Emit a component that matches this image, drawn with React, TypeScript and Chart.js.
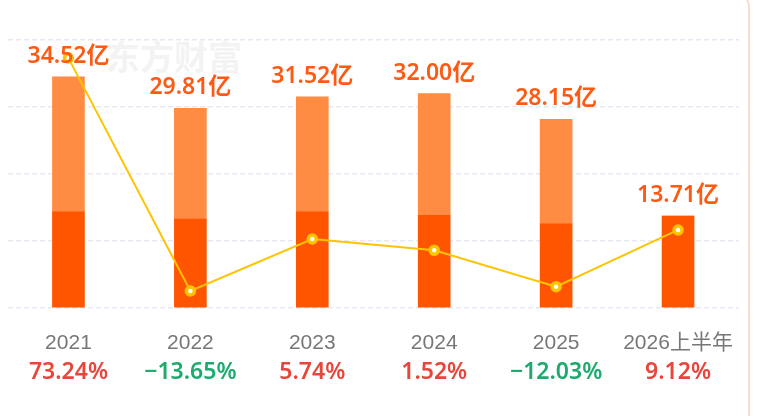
import React, { useEffect, useRef } from "react";
import { Chart, registerables } from "chart.js";

Chart.register(...registerables);

const years = ["2021", "2022", "2023", "2024", "2025", "2026上半年"];
const totals = [34.52, 29.81, 31.52, 32.0, 28.15, 13.71];
const firstHalf = [14.37, 13.27, 14.37, 13.84, 12.56, 13.71];
const secondHalf = [20.15, 16.54, 17.15, 18.16, 15.59, 0];
const growth = [73.24, -13.65, 5.74, 1.52, -12.03, 9.12];

const FONT = '"Noto Sans", "Noto Sans CJK SC", sans-serif';

const labelsPlugin = {
	id: "labelsPlugin",
	beforeDatasetsDraw(chart: any) {
		const { ctx, chartArea } = chart;
		ctx.save();
		ctx.font = `bold 34px "Noto Sans CJK SC", sans-serif`;
		ctx.fillStyle = "#f3f3f3";
		ctx.textAlign = "left";
		ctx.textBaseline = "middle";
		ctx.fillText("东方财富", 106, chartArea.top + 17);
		ctx.restore();
	},
	afterDatasetsDraw(chart: any) {
		const { ctx, scales } = chart;
		const x = scales.x;
		const y = scales.y;
		ctx.save();
		ctx.textAlign = "center";
		years.forEach((year, i) => {
			const px = x.getPixelForValue(i);
			ctx.textBaseline = "alphabetic";
			ctx.font = `600 23px ${FONT}`;
			ctx.fillStyle = "#ff5a14";
			ctx.fillText(totals[i].toFixed(2) + "亿", px, y.getPixelForValue(totals[i]) - 14);

			ctx.textBaseline = "middle";
			ctx.font = `21px "Liberation Sans", "Noto Sans CJK SC", sans-serif`;
			ctx.fillStyle = "#777777";
			ctx.fillText(year, px, 343);

			ctx.font = `600 23px ${FONT}`;
			ctx.fillStyle = growth[i] < 0 ? "#1daa6e" : "#e8453c";
			const g = growth[i] < 0 ? "−" + Math.abs(growth[i]).toFixed(2) : growth[i].toFixed(2);
			ctx.fillText(g + "%", px, 372);
		});
		ctx.restore();
	},
};

const App: React.FC = () => {
	const chartRef = useRef<HTMLCanvasElement>(null);

	useEffect(() => {
		if (!chartRef.current) return;
		const chart = new Chart(chartRef.current, {
			type: "bar",
			data: {
				labels: years,
				datasets: [
					{
						type: "line",
						label: "增长率",
						data: growth,
						yAxisID: "y1",
						borderColor: "#ffc400",
						borderWidth: 2,
						pointRadius: 4,
						pointBorderWidth: 3.5,
						pointBackgroundColor: "#ffffff",
						pointBorderColor: "#ffc400",
						tension: 0,
						order: 0,
					},
					{
						label: "上半年",
						data: firstHalf,
						backgroundColor: "#ff5500",
						barThickness: 32,
						stack: "s",
						order: 1,
					},
					{
						label: "下半年",
						data: secondHalf,
						backgroundColor: "#ff8c42",
						barThickness: 32,
						stack: "s",
						order: 1,
					},
				],
			},
			options: {
				animation: false,
				responsive: false,
				maintainAspectRatio: false,
				layout: { padding: { left: 4, right: 21, top: 40, bottom: 108 } },
				plugins: {
					legend: { display: false },
					tooltip: { enabled: false },
				},
				scales: {
					x: {
						display: false,
						stacked: true,
					},
					y: {
						stacked: true,
						min: 0,
						max: 40,
						ticks: { display: false, stepSize: 10 },
						border: { display: false, dash: [5, 3] },
						grid: { color: "#e8e8f2", lineWidth: 1.5, drawTicks: false },
					},
					y1: {
						display: false,
						min: -20,
						max: 80,
					},
				},
			},
			plugins: [labelsPlugin],
		});
		return () => {
			chart.destroy();
		};
	}, []);

	return (
		<div style={{ position: "fixed", left: 0, top: 0, width: 760, height: 416, overflow: "hidden", background: "#fff" }}>
			<div
				style={{
					position: "absolute",
					left: -40,
					top: -12,
					width: 790,
					height: 500,
					border: "2px solid #fcdccb",
					borderRadius: 20,
					boxSizing: "border-box",
				}}
			/>
			<canvas ref={chartRef} width={760} height={416} style={{ position: "absolute", left: 0, top: 0 }} />
		</div>
	);
};

export default App;
